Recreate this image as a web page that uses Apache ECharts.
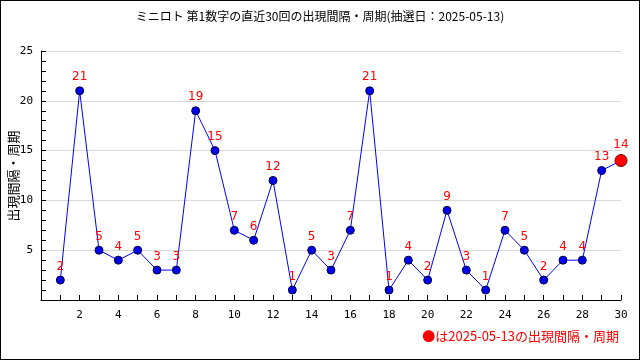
<!DOCTYPE html>
<html><head><meta charset="utf-8">
<script src="https://cdn.jsdelivr.net/npm/echarts@6/dist/echarts.min.js"></script>
<style>html,body{margin:0;padding:0;background:#fff}#c{width:640px;height:360px;box-sizing:border-box;border:1px solid #000}</style>
</head><body><div id="c"></div>
<script>
const titleText = 'ミニロト 第1数字の直近30回の出現間隔・周期(抽選日：2025-05-13)';
const yName = '出現間隔・周期';
const noteText = '●は2025-05-13の出現間隔・周期';
const draws = [1,2,3,4,5,6,7,8,9,10,11,12,13,14,15,16,17,18,19,20,21,22,23,24,25,26,27,28,29,30];
const intervals = [2,21,5,4,5,3,3,19,15,7,6,12,1,5,3,7,21,1,4,2,9,3,1,7,5,2,4,4,13,14];
const font = "'Noto Sans CJK JP', 'DejaVu Sans', sans-serif";
const data = draws.map((d,i)=>{
  const item = {value:[d, intervals[i]]};
  if (i === draws.length-1) {
    item.symbolSize = 12;
    item.itemStyle = {color:'#ff0000', borderColor:'#800000', borderWidth:1};
  }
  return item;
});
const chart = echarts.init(document.getElementById('c'));
chart.setOption({
  animation:false,
  title:{text:titleText,left:'center',top:4,textStyle:{fontFamily:font,fontSize:12,fontWeight:'normal',color:'#000'}},
  grid:{left:40,right:18,top:50,bottom:59,containLabel:false,outerBoundsMode:'none'},
  xAxis:{type:'value',min:0,max:30,interval:2,
    axisLine:{lineStyle:{color:'#000'}},
    axisTick:{inside:true,length:5,lineStyle:{color:'#000'}},
    minorTick:{show:true,splitNumber:2,length:5,lineStyle:{color:'#000'}},
    splitLine:{show:false},
    axisLabel:{color:'#000',fontFamily:'DejaVu Sans Mono',fontSize:11,margin:10,formatter:v=>v===0?'':v}},
  yAxis:{type:'value',min:0,max:25,interval:5,
    axisLine:{show:true,lineStyle:{color:'#000'}},
    axisTick:{show:true,inside:true,length:5,lineStyle:{color:'#000'}},
    minorTick:{show:true,splitNumber:5,length:5,lineStyle:{color:'#000'}},
    splitLine:{show:true,lineStyle:{color:'#d8d8d8'}},
    axisLabel:{color:'#000',fontFamily:'DejaVu Sans Mono',fontSize:11,margin:8,formatter:v=>v===0?'':v}},
  series:[{type:'line',data:data,symbol:'circle',symbolSize:8,
    lineStyle:{color:'#0000ff',width:1},
    itemStyle:{color:'#0000ee',borderColor:'#000040',borderWidth:1},
    label:{show:true,position:'top',distance:3,color:'#ff0000',fontFamily:'DejaVu Sans',fontSize:12,formatter:p=>p.value[1]}
  }],
  graphic:[
    {type:'text',right:20,top:329,style:{text:noteText,fill:'#ff0000',font:'13px '+font}},
    {type:'text',x:12,y:175,rotation:Math.PI/2,style:{text:yName,fill:'#000',font:'13px '+font,align:'center',verticalAlign:'middle'}}
  ]
});
</script></body></html>
